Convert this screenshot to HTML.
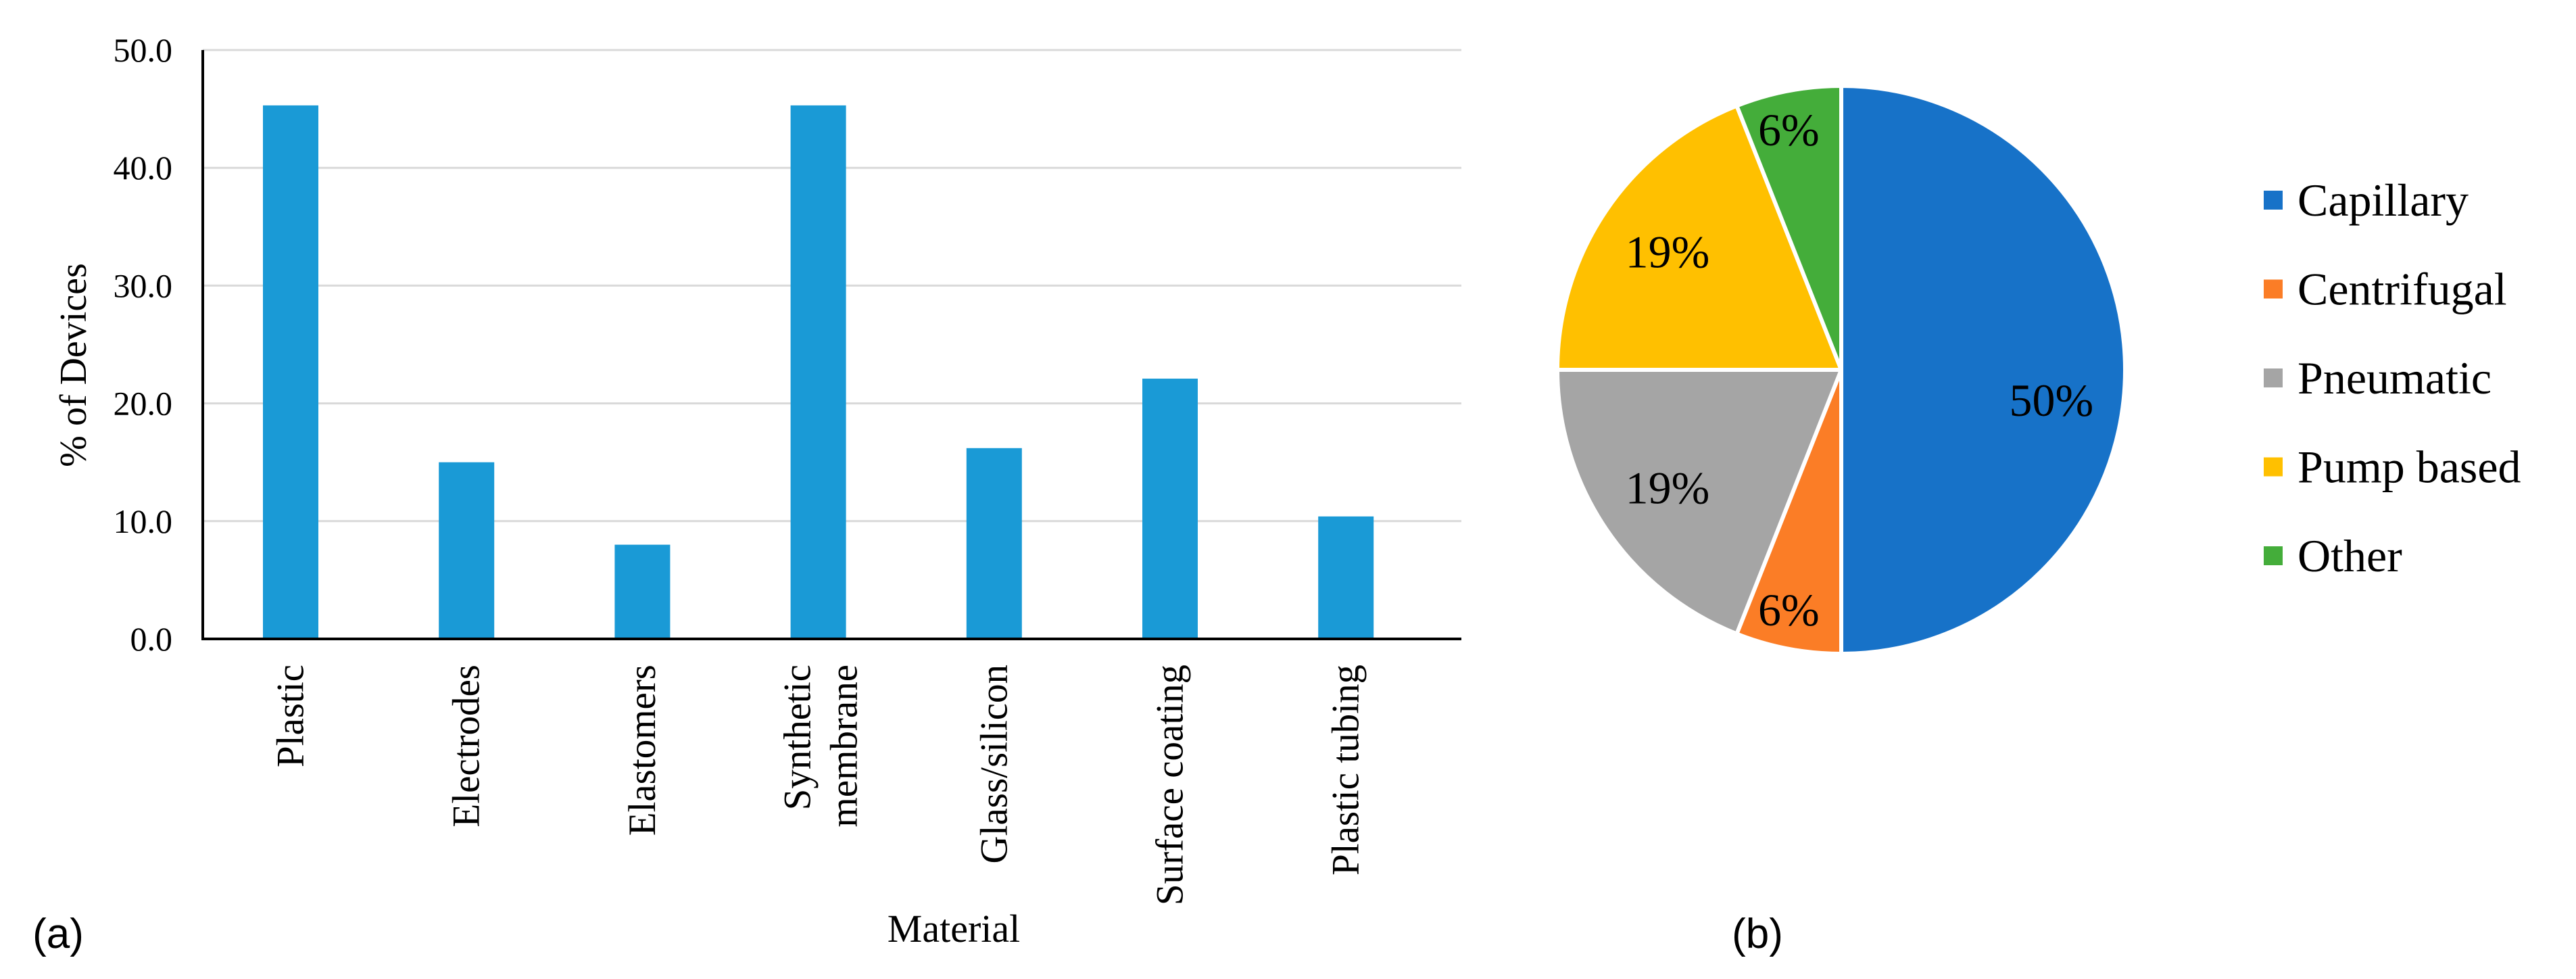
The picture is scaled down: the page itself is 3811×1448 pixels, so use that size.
<!DOCTYPE html>
<html><head><meta charset="utf-8"><style>
html,body{margin:0;padding:0;background:#fff;}
svg{display:block;}
text{font-family:"Liberation Serif",serif;fill:#000;}
.sans{font-family:"Liberation Sans",sans-serif;}
</style></head><body>
<svg id="fig" width="3811" height="1448" viewBox="0 0 3811 1448" xmlns="http://www.w3.org/2000/svg">
<g id="barChart"></g>
<g id="pieChart"></g>
<text class="sans" x="86" y="1402" font-size="62" text-anchor="middle">(a)</text>
<text class="sans" x="2600" y="1402" font-size="62" text-anchor="middle">(b)</text>
<text x="109" y="540" font-size="56" text-anchor="middle" dominant-baseline="central" transform="rotate(-90 109 540)">% of Devices</text>
<text x="1411" y="1393" font-size="58" text-anchor="middle">Material</text>
</svg>
<script>
const categories = [["Plastic"],["Electrodes"],["Elastomers"],["Synthetic","membrane"],["Glass/silicon"],["Surface coating"],["Plastic tubing"]];
const barValues = [45.3, 15.0, 8.0, 45.3, 16.2, 22.1, 10.4];
const yTicks = [0, 10, 20, 30, 40, 50];
const yTickLabels = ["0.0","10.0","20.0","30.0","40.0","50.0"];

const pieLabels = ["Capillary","Centrifugal","Pneumatic","Pump based","Other"];
const pieValues = [50, 6, 19, 19, 6];
const pieColors = ["#1772C8","#FB7D26","#A5A5A5","#FFC000","#44AD3A"];

const NS = "http://www.w3.org/2000/svg";
function mk(tag, attrs, parent){const e=document.createElementNS(NS,tag);for(const k in attrs)e.setAttribute(k,attrs[k]);parent.appendChild(e);return e;}

const X0=300, X1=2162, Y0=945, Ytop=74, YMAX=50;
const yScale = v => Y0 - (v/YMAX)*(Y0-Ytop);
const xCenter = i => 430 + i*260.2;
const BW = 82;
const bar = document.getElementById('barChart');

yTicks.forEach((t,i)=>{
  if(t>0){
    const g = mk('line',{x1:X0,x2:X1,y1:yScale(t),y2:yScale(t),stroke:'#d9d9d9','stroke-width':3},bar);
    
    
  }
  const tl = mk('text',{x:255,y:yScale(t),'font-size':50,'text-anchor':'end','dominant-baseline':'central'},bar);
  tl.textContent = yTickLabels[i];
  
  
});

barValues.forEach((v,i)=>{
  const r = mk('rect',{x:xCenter(i)-BW/2,y:yScale(v),width:BW,height:Y0-yScale(v),fill:'#1A9AD6'},bar);
  
  
  const lines = categories[i];
  lines.forEach((ln,j)=>{
    const off = (j-(lines.length-1)/2)*69 + (lines.length>1?4:0);
    const cx = xCenter(i)+off;
    const t = mk('text',{x:0,y:0,'font-size':57,'text-anchor':'end','dominant-baseline':'central',transform:'translate('+cx+',983) rotate(-90)'},bar);
    t.textContent = ln;
    
    
  });
});

const ya = mk('line',{x1:X0,x2:X0,y1:Ytop,y2:Y0+2,stroke:'#000','stroke-width':4},bar);


const xa = mk('line',{x1:X0-2,x2:X1,y1:Y0,y2:Y0,stroke:'#000','stroke-width':4},bar);



const pie = document.getElementById('pieChart');
const CX=2724, CY=547, R=420;
const total = pieValues.reduce((a,b)=>a+b,0);
let acc = 0;
const pt = (ang,r)=>[CX+r*Math.sin(ang), CY-r*Math.cos(ang)];
pieValues.forEach((v,i)=>{
  const a0 = acc/total*2*Math.PI; acc+=v; const a1 = acc/total*2*Math.PI;
  const p0=pt(a0,R), p1=pt(a1,R);
  const large = (a1-a0)>Math.PI?1:0;
  const s = mk('path',{d:`M${CX},${CY} L${p0[0]},${p0[1]} A${R},${R} 0 ${large} 1 ${p1[0]},${p1[1]} Z`,fill:pieColors[i],stroke:'#fff','stroke-width':6,'stroke-linejoin':'round'},pie);
  
  
  const am=(a0+a1)/2, rf = v<10?0.86:0.74;
  const lp = pt(am,R*rf);
  let lx = lp[0], ly = lp[1];
  if (v >= 40) { ly += 45; }
  else if (v < 10) { lx -= 10; }
  const t = mk('text',{x:lx,y:ly,'font-size':68,'text-anchor':'middle','dominant-baseline':'central'},pie);
  t.textContent = Math.round(v/total*100)+'%';
  
  
});

pieLabels.forEach((lab,i)=>{
  const y = 296 + i*131.5;
  const g = mk('g',{},pie);
  
  
  const sq = mk('rect',{x:3349,y:y-14,width:28,height:28,fill:pieColors[i]},g);
  
  
  const t = mk('text',{x:3399,y:y,'font-size':68,'dominant-baseline':'central'},g);
  t.textContent = lab;
  
  
});
</script>
</body></html>
